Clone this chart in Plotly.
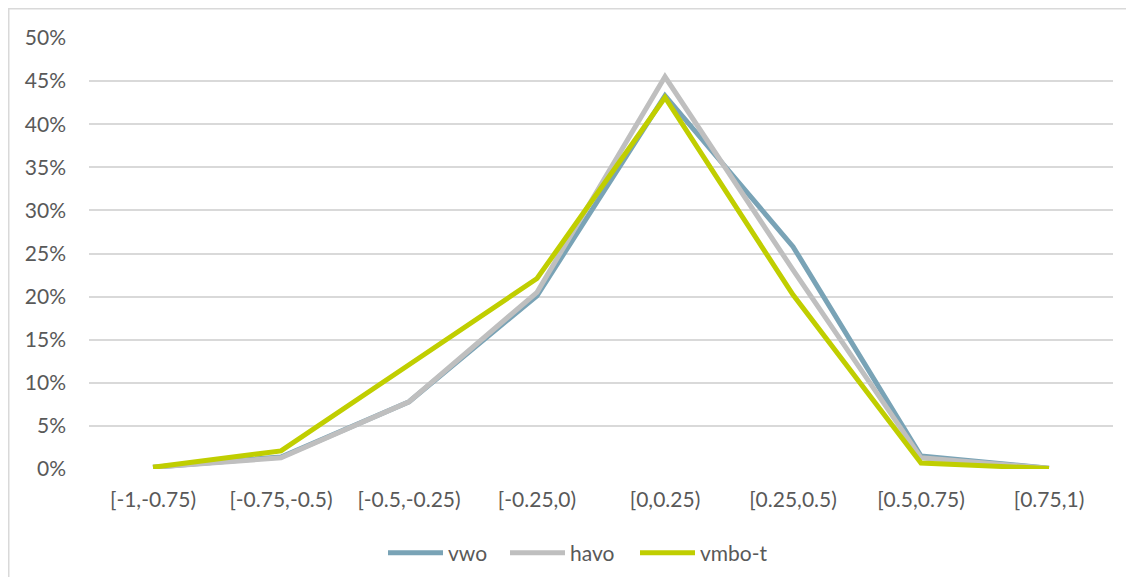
import plotly.graph_objects as go

categories = ["[-1,-0.75)", "[-0.75,-0.5)", "[-0.5,-0.25)", "[-0.25,0)",
              "[0,0.25)", "[0.25,0.5)", "[0.5,0.75)", "[0.75,1)"]
vwo = [0.002, 0.014, 0.078, 0.201, 0.433, 0.258, 0.015, 0.001]
havo = [0.002, 0.013, 0.078, 0.205, 0.455, 0.231, 0.013, 0.001]
vmbo_t = [0.002, 0.021, 0.121, 0.221, 0.431, 0.202, 0.007, 0.0005]
ytick_vals = [0, 0.05, 0.10, 0.15, 0.20, 0.25, 0.30, 0.35, 0.40, 0.45, 0.50]
ytick_text = ["0%", "5%", "10%", "15%", "20%", "25%", "30%", "35%", "40%", "45%", "50%"]

series = [("vwo", vwo, "#79A3B6"), ("havo", havo, "#BFBFBF"), ("vmbo-t", vmbo_t, "#C0CE00")]
legend_ids = ["legend", "legend2", "legend3"]

fig = go.Figure()
for (name, vals, col), lid in zip(series, legend_ids):
    fig.add_trace(go.Scatter(x=categories, y=vals, name=name, mode="lines",
                             line=dict(color=col, width=5), legend=lid))

# page body has an 8px margin, so the figure is sized to fit inside it
W, H = 1118, 569
L, R, T, B = 81, 13, 30, 108
pw, ph = W - L - R, H - T - B

def leg(px):
    return dict(orientation="h", x=(px - L) / pw, xanchor="left",
                y=(461 - 545) / ph, yanchor="middle",
                font=dict(size=21, color="#595959"), itemwidth=55,
                bgcolor="rgba(0,0,0,0)")

fig.update_layout(
    width=W, height=H,
    margin=dict(l=L, r=R, t=T, b=B, autoexpand=False),
    paper_bgcolor="white", plot_bgcolor="white",
    font=dict(family="Lato, sans-serif", size=21, color="#595959"),
    showlegend=True,
    legend=leg(375), legend2=leg(497), legend3=leg(627),
    xaxis=dict(type="category", showgrid=False, showline=False, zeroline=False,
               ticks="", ticklabelstandoff=16, tickfont=dict(size=21),
               range=[-0.5, 7.5]),
    yaxis=dict(range=[0, 0.5], tickvals=ytick_vals, ticktext=ytick_text,
               showgrid=True, gridcolor="#D9D9D9", gridwidth=1.5,
               zeroline=False, showline=False, ticks="",
               ticklabelstandoff=22, tickfont=dict(size=21)),
    shapes=[dict(type="rect", xref="paper", yref="paper",
                 x0=(0.75 - L) / pw, x1=1.2, y0=-0.5, y1=(461 - 0.75) / ph,
                 line=dict(color="#D9D9D9", width=1.5), fillcolor="rgba(0,0,0,0)",
                 layer="below")],
)

fig.write_html("out.html")
